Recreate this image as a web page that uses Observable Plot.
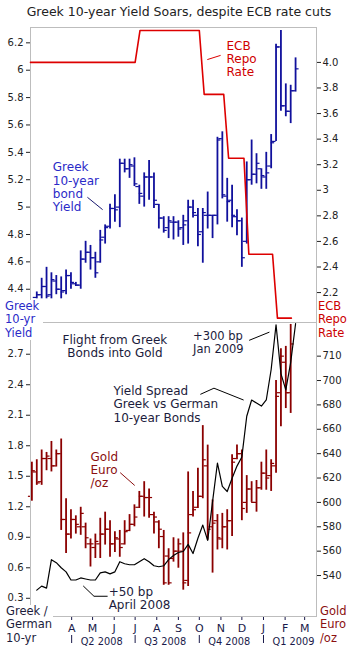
<!DOCTYPE html>
<html><head><meta charset="utf-8">
<script src="https://cdn.jsdelivr.net/npm/d3@7"></script>
<script src="https://cdn.jsdelivr.net/npm/@observablehq/plot@0.6"></script>
<style>
body{margin:0;background:#fff;font-family:"DejaVu Sans",sans-serif;}
#wrap{position:relative;width:348px;height:648px;overflow:hidden;background:#fff;}
#wrap svg{position:absolute;left:0;top:0;}
.lbl{position:absolute;font-size:11.5px;line-height:13.3px;white-space:pre;z-index:5;}
#title{position:absolute;left:5px;top:4px;width:348px;text-align:center;font-size:12.5px;line-height:16px;color:#222;z-index:5;}
</style></head><body>
<div id="wrap"><div id="title">Greek 10-year Yield Soars, despite ECB rate cuts</div></div>
<script>
// ---------- DATA ----------
// weekly dates (Mondays); gold uses weeks[0..53], yield & spread use weeks[1..54]
const weeks = ["2008-02-04","2008-02-11","2008-02-18","2008-02-25","2008-03-03","2008-03-10","2008-03-17","2008-03-24","2008-03-31",
"2008-04-07","2008-04-14","2008-04-21","2008-04-28","2008-05-05","2008-05-12","2008-05-19","2008-05-26",
"2008-06-02","2008-06-09","2008-06-16","2008-06-23","2008-06-30","2008-07-07","2008-07-14","2008-07-21","2008-07-28",
"2008-08-04","2008-08-11","2008-08-18","2008-08-25","2008-09-01","2008-09-08","2008-09-15","2008-09-22","2008-09-29",
"2008-10-06","2008-10-13","2008-10-20","2008-10-27","2008-11-03","2008-11-10","2008-11-17","2008-11-24",
"2008-12-01","2008-12-08","2008-12-15","2008-12-22","2008-12-29","2009-01-05","2009-01-12","2009-01-19","2009-01-26",
"2009-02-02","2009-02-09","2009-02-16"];

// Greek 10-year yield, weekly OHLC (%)
const yieldHigh = [4.38,4.48,4.56,4.52,4.50,4.49,4.54,4.52,4.45,4.68, 4.75,4.72,4.67,4.83,4.87,5.02,5.09,5.35,5.35,5.35, 5.36,5.16,5.25,5.34,5.25,5.02,4.93,4.93,4.93,4.90, 4.94,5.05,5.05,4.99,4.99,5.11,4.94,5.51,5.55,5.21, 5.16,4.98,4.92,5.33,5.49,5.39,5.28,5.40,5.53,6.19, 6.29,5.90,5.89,6.09];
const yieldLow  = [4.33,4.33,4.33,4.33,4.36,4.33,4.36,4.40,4.42,4.40, 4.59,4.54,4.48,4.59,4.73,4.84,4.89,4.85,5.25,5.21, 5.15,5.02,5.00,5.05,4.99,4.84,4.81,4.77,4.76,4.78, 4.72,4.73,4.92,4.71,4.59,4.84,4.77,4.87,5.06,4.89, 4.85,4.79,4.56,4.73,5.16,5.17,5.13,5.13,5.28,5.48, 5.70,5.66,5.61,5.84];
const yieldOpen = [4.34,4.36,4.42,4.36,4.46,4.40,4.39,4.50,4.44,4.43, 4.62,4.67,4.63,4.60,4.78,4.86,4.99,5.00,5.32,5.28, 5.30,5.15,5.08,5.22,5.22,5.02,4.92,4.85,4.89,4.89, 4.85,4.90,5.00,4.94,4.82,4.94,4.94,4.94,5.50,5.08, 5.05,4.93,4.90,4.75,5.20,5.24,5.28,5.22,5.30,5.48, 6.17,5.74,5.70,5.85];
const yieldClose= [4.36,4.42,4.35,4.47,4.40,4.38,4.50,4.45,4.43,4.62, 4.67,4.63,4.52,4.76,4.85,4.99,4.98,5.32,5.28,5.31, 5.17,5.10,5.22,5.22,5.05,4.92,4.83,4.90,4.89,4.84, 4.87,5.00,4.96,4.80,4.96,4.94,4.94,5.49,5.09,5.04, 4.94,4.90,4.63,5.20,5.24,5.32,5.23,5.25,5.47,6.17, 5.74,5.70,5.85,6.01];

// Greek / German 10-year spread (percentage points)
const spread = [0.38,0.42,0.40,0.68,0.65,0.60,0.56,0.48,0.48,0.50, 0.49,0.48,0.48,0.55,0.56,0.54,0.56,0.66,0.64,0.63, 0.63,0.66,0.69,0.66,0.62,0.61,0.62,0.68,0.72,0.75, 0.76,0.83,0.74,0.89,1.02,0.87,1.25,1.63,1.40,1.35, 1.48,1.60,1.69,2.09,2.25,2.22,2.19,2.25,2.55,2.99, 2.51,2.35,2.62,3.00];

// Gold in euro per ounce, weekly OHLC
const goldHigh = [633,635,643,641,650,643,652,603,594,589, 596,583,570,574,587,592,585,576,577,585, 590,598,609,617,611,592,585,577,562,571, 570,575,625,609,628,663,647,602,590,591, 594,639,647,643,622,617,618,633,643,635, 700,726,728,746];
const goldLow  = [601,614,614,626,625,629,577,558,570,574, 573,562,547,554,554,565,555,559,555,565, 576,580,595,588,587,574,562,532,532,551, 546,528,531,588,595,603,569,542,561,562, 561,572,635,585,591,600,592,610,610,609, 624,662,677,673];
const goldOpen = [605,625,617,636,636,630,640,586,574,586, 580,580,566,563,566,574,578,566,570,566, 577,582,596,605,604,590,584,572,556,554, 560,560,536,590,596,605,630,580,585,570, 580,585,636,640,600,611,600,612,624,622, 630,690,715,690];
const goldClose= [626,616,636,638,630,640,586,574,586,582, 591,571,566,568,574,578,566,571,563,576, 582,588,605,604,604,588,578,534,534,560, 566,534,575,594,605,635,578,583,571,580, 585,633,640,595,611,600,612,624,620,632, 687,720,690,730];

// ECB repo rate
const ecbDates = ["2008-02-02","2008-07-01","2008-07-08","2008-10-01","2008-10-08","2008-11-05","2008-11-12","2008-12-04","2008-12-11","2009-01-14","2009-01-21","2009-02-10"];
const ecbRates = [4.00,4.00,4.25,4.25,3.75,3.75,3.25,3.25,2.50,2.50,2.00,2.00];

// tick values and labels
const yieldTicks = [4.4,4.6,4.8,5,5.2,5.4,5.6,5.8,6,6.2];
const yieldTickLabels = ["4.4","4.6","4.8","5","5.2","5.4","5.6","5.8","6","6.2"];
const ecbTicks = [2.2,2.4,2.6,2.8,3,3.2,3.4,3.6,3.8,4.0];
const ecbTickLabels = ["2.2","2.4","2.6","2.8","3","3.2","3.4","3.6","3.8","4.0"];
const spreadTicks = [0.3,0.6,0.9,1.2,1.5,1.8,2.1,2.4,2.7];
const spreadTickLabels = ["0.3","0.6","0.9","1.2","1.5","1.8","2.1","2.4","2.7"];
const goldTicks = [540,560,580,600,620,640,660,680,700,720];
const goldTickLabels = ["540","560","580","600","620","640","660","680","700","710"];
const monthTicks = ["2008-04-01","2008-05-01","2008-06-01","2008-07-01","2008-08-01","2008-09-01","2008-10-01","2008-11-01","2008-12-01","2009-01-01","2009-02-01","2009-03-01"];
const monthLabels = ["A","M","J","J","A","S","O","N","D","J","F","M"];
const quarterStarts = ["2008-04-01","2008-07-01","2008-10-01","2009-01-01"];
const quarterLabels = ["Q2 2008","Q3 2008","Q4 2008","Q1 2009"];

// ---------- TABLES ----------
const yieldData = yieldHigh.map((h,i)=>({date:new Date(weeks[i+1]),high:h,low:yieldLow[i],open:yieldOpen[i],close:yieldClose[i],spread:spread[i]}));
const goldData = goldHigh.map((h,i)=>({date:new Date(weeks[i]),high:h,low:goldLow[i],open:goldOpen[i],close:goldClose[i]}));
const ecbData = ecbDates.map((d,i)=>({date:new Date(d),rate:ecbRates[i]}));
const mapOf = (t,l)=>new Map(t.map((v,i)=>[v,l[i]]));
const yieldFmt = mapOf(yieldTicks,yieldTickLabels), ecbFmt = mapOf(ecbTicks,ecbTickLabels),
      spreadFmt = mapOf(spreadTicks,spreadTickLabels), goldFmt = mapOf(goldTicks,goldTickLabels);
const monthFmt = new Map(monthTicks.map((d,i)=>[+new Date(d),monthLabels[i]]));
const quarterData = quarterStarts.map((d,i)=>({date:new Date(d),label:quarterLabels[i]}));

const X_DOMAIN = [new Date("2008-02-02"), new Date("2009-03-18")];
const W=348,H=648;
const STYLE = {background:"none",fontFamily:"DejaVu Sans",fontSize:"10px",color:"#222",overflow:"visible"};
const blue="#10109c", red="#dd0000", goldC="#8b0000";
const FONT = "DejaVu Sans";
const D = s => new Date(s);

function ohlc(data, color, w) {
  return [
    Plot.ruleX(data,{x:"date",y1:"low",y2:"high",stroke:color,strokeWidth:w}),
    Plot.ruleY(data,{x1:"date",x2:"date",y:"open",insetLeft:-3.5,stroke:color,strokeWidth:1.2}),
    Plot.ruleY(data,{x1:"date",x2:"date",y:"close",insetRight:-3.5,stroke:color,strokeWidth:1.2})
  ];
}

// top-left: Greek yield
const p1 = Plot.plot({
  width:W,height:H,marginLeft:30,marginRight:32,marginTop:27,marginBottom:326,style:STYLE,
  x:{type:"utc",domain:X_DOMAIN,axis:null,label:null},
  y:{domain:[4.157,6.312],label:null},
  marks:[
    Plot.frame({stroke:"#bdbdbd"}),
    Plot.axisY(yieldTicks,{anchor:"left",label:null,tickSize:4,tickPadding:3,fontSize:10,tickFormat:d=>yieldFmt.get(d)}),
    ...ohlc(yieldData, blue, 1.8),
    Plot.text([{date:D("2008-03-05"),v:5.147,t:"Greek\n10-year\nbond\nYield"}],{x:"date",y:"v",text:"t",textAnchor:"start",lineAnchor:"middle",lineHeight:1.1,fontSize:12,fill:"#2a2ac8",fontFamily:FONT}),
    Plot.line([{date:D("2008-04-24"),v:5.07},{date:D("2008-05-15"),v:4.983}],{x:"date",y:"v",stroke:"#1a1a70",strokeWidth:1})
  ]
});

// top-right: ECB repo rate
const p2 = Plot.plot({
  width:W,height:H,marginLeft:30,marginRight:32,marginTop:27,marginBottom:326,style:STYLE,
  x:{type:"utc",domain:X_DOMAIN,axis:null,label:null},
  y:{domain:[1.966,4.273],label:null},
  marks:[
    Plot.axisY(ecbTicks,{anchor:"right",label:null,tickSize:4,tickPadding:2,fontSize:10,tickFormat:d=>ecbFmt.get(d)}),
    Plot.line(ecbData,{x:"date",y:"rate",stroke:red,strokeWidth:1.6}),
    Plot.text([{date:D("2008-11-09"),v:4.03,t:"ECB\nRepo\nRate"}],{x:"date",y:"v",text:"t",textAnchor:"start",lineAnchor:"middle",lineHeight:1.1,fontSize:12,fill:"#d00000",fontFamily:FONT}),
    Plot.line([{date:D("2008-10-13"),v:4.023},{date:D("2008-10-31"),v:4.054}],{x:"date",y:"v",stroke:red,strokeWidth:1})
  ]
});

// bottom-right: gold
const p3 = Plot.plot({
  width:W,height:H,marginLeft:30,marginRight:32,marginTop:322,marginBottom:32,style:STYLE,
  x:{type:"utc",domain:X_DOMAIN,label:null},
  y:{domain:[506.4,747.6],label:null},
  marks:[
    Plot.axisY(goldTicks,{anchor:"right",label:null,tickSize:4,tickPadding:2,fontSize:10,tickFormat:d=>goldFmt.get(d)}),
    Plot.axisX(monthTicks.map(D),{label:null,tickSize:4,tickPadding:4,fontSize:11,color:"#1a1a4a",tickFormat:d=>monthFmt.get(+d)}),
    Plot.ruleX(quarterData,{x:"date",insetTop:313,insetBottom:-27,stroke:"#1a1a4a",strokeWidth:1}),
    Plot.text(quarterData,{x:"date",text:"label",frameAnchor:"bottom",lineAnchor:"middle",dy:25,dx:9,textAnchor:"start",fontSize:9.8,fill:"#1a1a4a",fontFamily:FONT}),
    ...ohlc(goldData, goldC, 1.8)
  ]
});

// bottom-left: spread
const p4 = Plot.plot({
  width:W,height:H,marginLeft:30,marginRight:32,marginTop:322,marginBottom:32,style:STYLE,
  x:{type:"utc",domain:X_DOMAIN,axis:null,label:null},
  y:{domain:[0.121,3.012],label:null},
  marks:[
    Plot.frame({stroke:"#bdbdbd"}),
    Plot.axisY(spreadTicks,{anchor:"left",label:null,tickSize:4,tickPadding:3,fontSize:10,tickFormat:d=>spreadFmt.get(d)}),
    Plot.line(yieldData,{x:"date",y:"spread",stroke:"#000",strokeWidth:1.2}),
    Plot.text([{date:D("2008-06-02"),v:2.779,t:"Flight from Greek\nBonds into Gold"}],{x:"date",y:"v",text:"t",textAnchor:"middle",lineAnchor:"middle",lineHeight:1.1,fontSize:12,fill:"#1c1c3c",fontFamily:FONT}),
    Plot.text([{date:D("2008-09-22"),v:2.819,t:"+300 bp\nJan 2009"}],{x:"date",y:"v",text:"t",textAnchor:"start",lineAnchor:"middle",lineHeight:1.15,fontSize:11.5,fill:"#1c1c3c",fontFamily:FONT}),
    Plot.line([{date:D("2008-12-12"),v:2.838},{date:D("2009-01-09"),v:2.916}],{x:"date",y:"v",stroke:"#000",strokeWidth:1}),
    Plot.text([{date:D("2008-05-31"),v:2.208,t:"Yield Spread\nGreek vs German\n10-year Bonds"}],{x:"date",y:"v",text:"t",textAnchor:"start",lineAnchor:"middle",lineHeight:1.1,fontSize:12,fill:"#1c1c3c",fontFamily:FONT}),
    Plot.line([{date:D("2008-10-03"),v:2.307},{date:D("2008-10-22"),v:2.366},{date:D("2008-12-03"),v:2.251}],{x:"date",y:"v",stroke:"#000",strokeWidth:1}),
    Plot.text([{date:D("2008-04-28"),v:1.566,t:"Gold\nEuro\n/oz"}],{x:"date",y:"v",text:"t",textAnchor:"start",lineAnchor:"middle",lineHeight:1.1,fontSize:12,fill:"#8b1010",fontFamily:FONT}),
    Plot.line([{date:D("2008-06-10"),v:1.533},{date:D("2008-06-30"),v:1.412}],{x:"date",y:"v",stroke:"#8b1010",strokeWidth:1}),
    Plot.text([{date:D("2008-05-24"),v:0.298,t:"+50 bp\nApril 2008"}],{x:"date",y:"v",text:"t",textAnchor:"start",lineAnchor:"middle",lineHeight:1.1,fontSize:12,fill:"#1c1c3c",fontFamily:FONT}),
    Plot.line([{date:D("2008-04-18"),v:0.419},{date:D("2008-05-03"),v:0.320},{date:D("2008-05-22"),v:0.320}],{x:"date",y:"v",stroke:"#000",strokeWidth:1})
  ]
});

const wrap = document.getElementById("wrap");
[p1,p2,p3,p4].forEach(p=>wrap.appendChild(p));

function label(txt, left, top, color, bg, w, h) {
  const d = document.createElement("div");
  d.className = "lbl";
  d.textContent = txt;
  d.style.left = left+"px"; d.style.top = top+"px"; d.style.color = color;
  if (bg) { d.style.background = "#fff"; d.style.width = w+"px"; d.style.height = h+"px"; }
  wrap.appendChild(d);
}
label("Greek\n10-yr\nYield", 5, 300, "#2a2ac8", true, 38, 40);
label("ECB\nRepo\nRate", 318, 300, "#cc0000", false);
label("Greek /\nGerman\n10-yr", 6, 605, "#1c1c3c", true, 47, 42);
label("Gold\nEuro\n/oz", 320, 605, "#8b1010", false);
</script></body></html>
